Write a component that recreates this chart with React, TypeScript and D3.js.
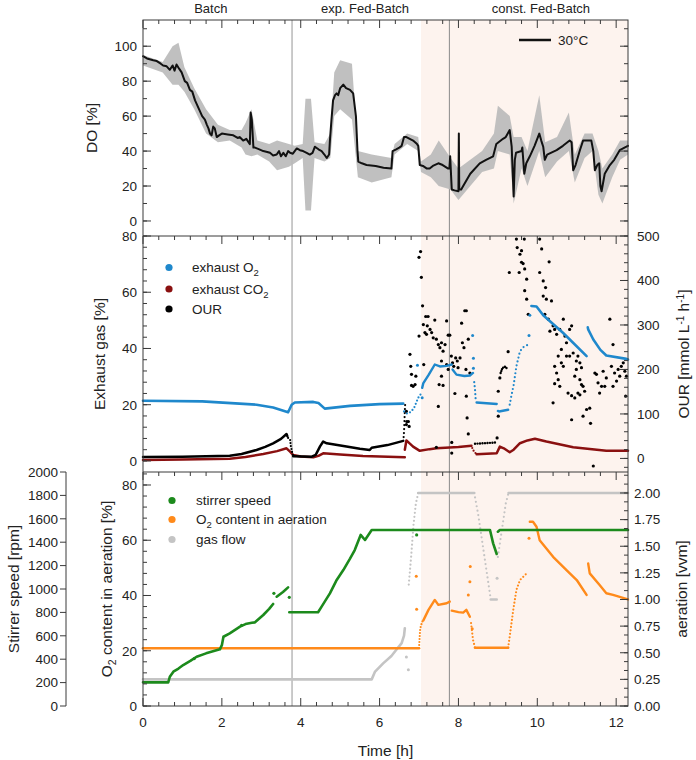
import React from 'react';
import * as d3 from 'd3';

type P = [number, number];
type B = [number, number, number];

// ---------- axis extents ----------
const timeMax = 12.3;
const doDomain: P = [-8.6, 115];
const exDomain: P = [-3.93, 80];
const ourDomain: P = [-30.5, 500];
const o2Domain: P = [0, 84.7];
const aerDomain: P = [0, 2.197];
const stirDomain: P = [0, 2000];

// ---------- phases ----------
const phaseLabels = ['Batch', 'exp. Fed-Batch', 'const. Fed-Batch'];
const phaseLabelT = [1.72, 5.63, 10.09];
const phaseLine1 = 3.78;
const phaseLine2 = 7.77;
const shadeStart = 7.05;

// ---------- DO (top panel) ----------
const doMean: P[] = [[0,94.3],[0.1,93],[0.26,92],[0.35,91.5],[0.45,90],[0.51,89],[0.6,88.5],[0.68,86.5],[0.75,89],[0.8,86],[0.85,89.5],[0.92,87],[0.98,85],[1.06,80],[1.12,79],[1.19,75],[1.25,74],[1.32,69],[1.38,66],[1.44,63],[1.5,60],[1.57,58],[1.62,55],[1.66,53],[1.7,50],[1.74,49],[1.78,54],[1.82,53],[1.87,48],[1.93,49],[2.0,50],[2.15,49.5],[2.29,49],[2.4,47.5],[2.45,48],[2.54,46],[2.62,47],[2.71,44],[2.73,62],[2.76,58],[2.8,42],[2.84,42],[2.95,41],[3.05,40],[3.15,39.5],[3.22,39],[3.3,37.5],[3.39,38],[3.45,40],[3.5,37],[3.56,39],[3.62,37],[3.68,40],[3.73,39],[3.8,38.5],[3.9,41.5],[3.98,40.5],[4.06,40],[4.15,39],[4.23,38],[4.3,39],[4.36,42.5],[4.45,41],[4.53,40],[4.6,38],[4.66,36],[4.72,38],[4.74,46],[4.78,58],[4.82,69],[4.87,72],[4.91,73],[4.95,72],[5.0,76],[5.08,78],[5.15,76],[5.25,75],[5.33,73],[5.4,60],[5.44,40],[5.46,34],[5.55,33],[5.67,32],[5.9,31.5],[6.1,30.5],[6.3,30],[6.33,40],[6.42,41],[6.5,42],[6.56,43],[6.62,48],[6.68,48],[6.85,46],[6.95,44],[6.98,43],[7.02,32],[7.1,31.5],[7.2,30],[7.27,30],[7.35,31.5],[7.49,33],[7.6,32],[7.74,30],[7.77,30],[7.79,37],[7.83,18],[7.9,17.5],[8.0,17],[8.01,50],[8.02,18],[8.07,18],[8.12,20],[8.3,27],[8.54,33],[8.7,35],[8.88,37],[8.96,44],[9.13,47],[9.2,48],[9.3,52],[9.35,42.5],[9.4,14],[9.43,35],[9.46,39],[9.6,40],[9.62,42],[9.67,27],[9.72,33],[9.81,37],[9.93,43],[10.05,50],[10.1,46],[10.15,42.5],[10.19,35],[10.25,38],[10.49,40.5],[10.65,43],[10.82,46],[10.87,45],[10.91,29],[10.97,32],[11.08,40.5],[11.16,46],[11.37,46],[11.42,40],[11.46,29],[11.52,32],[11.57,33],[11.6,20],[11.63,17],[11.67,22],[11.71,27],[11.84,32],[11.95,35],[12.09,40.5],[12.26,42.5],[12.3,43]];
const doBand: B[] = [[0,89,95],[0.5,85,91],[0.75,78,100],[0.9,78,102],[1.05,74,88],[1.3,64,76],[1.6,50,64],[1.9,45,55],[2.2,46,52],[2.5,42,52],[2.6,38,56],[2.75,37,64],[2.9,38,46],[3.2,34,44],[3.4,29,46],[3.7,31,44],[3.85,33,43],[4.05,36,44],[4.12,6,70],[4.26,6,70],[4.35,36,45],[4.6,34,44],[4.75,36,50],[4.85,60,85],[5.0,64,92],[5.3,58,90],[5.45,25,40],[5.8,22,38],[6.3,25,36],[6.38,38,44],[6.7,44,50],[6.98,40,48],[7.05,28,34],[7.3,25,38],[7.5,20,46],[7.8,18,36],[8.0,12,30],[8.3,20,35],[8.6,28,40],[8.9,30,50],[9.0,40,66],[9.3,38,60],[9.4,10,48],[9.6,30,48],[9.75,20,40],[10.05,40,72],[10.2,25,45],[10.5,34,48],[10.8,40,62],[10.95,22,38],[11.2,36,50],[11.4,40,50],[11.55,15,40],[11.65,10,30],[11.9,25,38],[12.1,35,46],[12.3,38,46]];

// ---------- exhaust O2 (blue, % axis) ----------
const o2ExSolid1: P[] = [[0,21.4],[1.5,21.2],[2.88,20],[3.3,19],[3.68,17.3],[3.77,20],[3.85,20.8],[4.32,21],[4.45,20.6],[4.61,18.6],[5.25,19.6],[6.0,20.2],[6.6,20.4]];
const o2ExDotted1: P[] = [[6.62,17.6],[6.7,16.8],[6.8,17.5],[6.88,19],[6.96,21.8],[7.0,23],[7.06,24]];
const o2ExSolid2: P[] = [[7.08,26],[7.11,27.7],[7.24,30.5],[7.4,34.3],[7.53,33.6],[7.7,33.8],[7.83,34.3]];
const o2ExSolid3: P[] = [[7.85,32.5],[7.95,30.7],[8.15,30.2],[8.29,30.4],[8.37,31.3]];
const o2ExDotted2: P[] = [[8.4,28],[8.42,25.4],[8.44,21.2]];
const o2ExSolid4: P[] = [[8.46,20.8],[8.97,20.25]];
const o2ExSolid5: P[] = [[9.0,17.8],[9.03,17.6],[9.26,18.2]];
const o2ExDotted3: P[] = [[9.3,20],[9.34,23],[9.4,27],[9.47,33.7],[9.56,39],[9.65,40.5],[9.77,41.4]];
const o2ExSolid6: P[] = [[9.85,55.1],[9.98,54.9],[10.15,51.8],[10.65,45.6],[11.25,37.3]];
const o2ExSolid7: P[] = [[11.28,47.5],[11.29,46.8],[11.42,43.2],[11.6,39.5],[11.75,37.5],[12.26,36.3],[12.3,36.1]];
const o2ExDots: P[] = [[6.96,34],[7.08,22.5],[8.36,44.6],[8.38,36.5],[8.38,33],[9.79,44.6],[9.81,51.8]];

// ---------- exhaust CO2 (dark red, % axis) ----------
const co2Solid1: P[] = [[0,0.36],[1.0,0.5],[2.2,0.8],[2.6,1.4],[3.05,2.5],[3.4,3.5],[3.64,4.5],[3.73,3.3],[3.81,2.1],[4.0,1.6],[4.32,1.3],[4.45,1.8],[4.57,2.7],[5.0,2.3],[5.58,1.8],[6.64,1.3]];
const co2Solid2: P[] = [[6.64,4],[6.68,7.3],[6.85,5.1],[7.02,3.6],[7.27,4.2],[7.44,4.5],[8.0,5],[8.33,5.4]];
const co2Dotted: P[] = [[8.35,4.6],[8.37,3.9],[8.42,3],[8.46,2.4]];
const co2Solid3: P[] = [[8.46,2.4],[8.97,2.75],[9.05,5.1],[9.15,4.5],[9.3,3.1],[9.4,4],[9.56,6.3],[9.75,7.3],[9.94,7.9],[10.23,6.9],[10.91,4.9],[11.75,3.6],[12.3,3.6]];

// ---------- OUR (black, OUR axis) ----------
const ourSolid1: P[] = [[0,3],[1.0,4],[2.2,6],[2.5,10],[2.88,19],[3.1,26],[3.3,34],[3.5,44],[3.64,55],[3.66,50]];
const ourDotted1: P[] = [[3.68,46],[3.73,42],[3.75,27],[3.78,15],[3.81,6]];
const ourSolid2: P[] = [[3.81,5],[4.28,4],[4.38,8],[4.49,27],[4.57,38],[4.66,34],[5.16,27],[5.5,22],[5.75,19],[5.8,24],[6.2,30],[6.6,39.5]];
const ourDotted2: P[] = [[6.61,48],[6.62,60],[6.63,83],[6.64,106],[6.65,125]];
const ourSolid3: P[] = [[8.42,33],[8.6,34],[8.8,35],[8.98,36]];
const ourArc: P[] = [[9.07,192],[9.1,200],[9.13,204],[9.18,206],[9.22,203]];
const ourDots: P[] = [[6.68,106],[6.73,83],[6.75,72],[6.68,76],[6.69,83],[6.77,234],[6.79,207],[6.81,189],[6.85,162],[6.9,166],[6.81,164],[6.92,185],[7.0,452],[7.04,465],[7.06,407],[7.09,343],[7.0,275],[7.12,211],[7.11,301],[7.17,319],[7.23,319],[7.21,298],[7.28,290],[7.15,283],[7.19,279],[7.32,283],[7.36,271],[7.4,311],[7.44,268],[7.49,256],[7.53,249],[7.57,260],[7.61,241],[7.66,256],[7.7,309],[7.74,277],[7.78,277],[7.82,230],[7.57,219],[7.49,117],[7.51,166],[7.61,164],[7.57,185],[7.7,211],[7.74,200],[7.85,215],[7.88,207],[7.93,226],[7.97,219],[7.91,146],[7.99,204],[8.04,226],[8.08,304],[8.1,260],[8.14,249],[8.16,332],[8.2,332],[8.25,268],[8.19,200],[8.2,140],[8.22,91],[8.29,192],[7.44,25],[7.83,36],[7.83,12],[8.25,55],[8.98,46],[9.05,181],[9.01,151],[9.01,95],[9.26,240],[9.29,418],[9.47,493],[9.49,474],[9.56,459],[9.6,441],[9.64,438],[9.68,426],[9.73,403],[9.68,377],[9.73,358],[9.77,324],[9.67,493],[9.6,467],[9.54,418],[10.06,493],[10.11,471],[10.3,442],[10.06,418],[10.15,399],[10.21,384],[10.15,365],[10.23,358],[10.36,354],[10.19,324],[10.28,313],[10.4,298],[10.32,286],[10.44,290],[10.49,279],[10.57,290],[10.66,313],[10.7,275],[10.74,260],[10.61,245],[10.53,230],[10.61,215],[10.66,207],[10.44,207],[10.49,192],[10.44,168],[10.53,177],[10.4,125],[10.57,162],[10.74,230],[10.82,230],[10.87,298],[10.82,290],[10.91,237],[10.99,219],[11.03,230],[11.08,215],[11.12,204],[10.99,200],[10.95,185],[11.08,177],[10.78,147],[10.87,141],[10.95,136],[11.03,147],[11.12,166],[11.16,162],[11.2,151],[11.08,143],[11.16,95],[10.87,87],[11.33,113],[11.25,110],[11.35,79],[11.46,192],[11.5,189],[11.54,170],[11.63,162],[11.58,147],[11.71,162],[11.75,181],[11.67,196],[11.84,313],[11.92,256],[11.88,207],[11.96,192],[12.01,174],[11.92,162],[12.05,200],[12.09,185],[12.13,207],[12.18,215],[12.22,196],[12.26,185],[12.24,140],[11.42,-17]];

// ---------- stirrer speed (green, rpm axis) ----------
const stirSolid1: P[] = [[0,202],[0.64,202],[0.68,250],[0.77,293],[0.9,320],[1.02,350],[1.2,385],[1.36,421],[1.6,450],[1.95,484],[2.0,520],[2.04,592],[2.2,621],[2.46,678],[2.6,700],[2.76,712],[2.84,715],[3.05,778],[3.2,830],[3.3,872]];
const stirSolid2: P[] = [[3.39,934],[3.55,975],[3.68,1014]];
const stirSolid3: P[] = [[3.71,801],[4.44,801],[4.53,849],[4.74,963],[4.9,1070],[5.08,1162],[5.25,1260],[5.37,1333],[5.52,1462],[5.63,1419],[5.8,1504],[6.85,1504],[8.8,1504],[8.88,1390],[8.97,1299]];
const stirSolid4: P[] = [[9.0,1490],[9.05,1504],[12.3,1504]];
const stirDots: P[] = [[3.32,963],[3.71,929],[1.3,405],[2.5,690],[6.94,1462]];

// ---------- O2 content in aeration (orange, % axis) ----------
const o2inSolid1: P[] = [[0,20.9],[7.0,20.9]];
const o2inDotted1: P[] = [[7.0,21],[7.03,28],[7.08,30.5],[7.11,31]];
const o2inSolid2: P[] = [[7.11,31],[7.24,34.8],[7.4,38.4],[7.49,36.6],[7.7,37.2],[7.78,37.8]];
const o2inSolid3: P[] = [[7.83,34.5],[8.0,34],[8.12,33.8],[8.2,34.8],[8.29,32.3]];
const o2inDotted2: P[] = [[8.32,30],[8.37,23.9],[8.42,21.1]];
const o2inSolid4: P[] = [[8.42,21.1],[9.26,21.1]];
const o2inDotted3: P[] = [[9.26,21.1],[9.3,25.1],[9.39,34.8],[9.47,42],[9.56,45.6],[9.73,48]];
const o2inSolid5: P[] = [[9.81,66.7],[9.89,66.7],[9.98,64.9],[10.06,60],[10.4,54],[10.74,49.2],[11.0,45.6],[11.25,40.2]];
const o2inSolid6: P[] = [[11.29,51.6],[11.33,48],[11.58,43.8],[11.75,40.8],[11.92,40.2],[12.3,38.6]];
const o2inDots: P[] = [[6.93,47],[6.94,35],[8.25,40.2],[8.29,45],[8.3,50.5],[8.35,28],[9.79,60.7]];

// ---------- gas flow (grey, vvm axis) ----------
const flowSolid1: P[] = [[0,0.25],[5.8,0.25],[5.88,0.32],[6.09,0.4],[6.3,0.47],[6.43,0.53],[6.56,0.59],[6.62,0.66],[6.64,0.73]];
const flowDotted1: P[] = [[6.74,1.14],[6.8,1.4],[6.86,1.7],[6.92,1.9],[6.98,2.0]];
const flowSolid2: P[] = [[6.98,2.0],[8.4,2.0]];
const flowDotted2: P[] = [[8.4,2.0],[8.5,1.8],[8.6,1.55],[8.7,1.3],[8.82,1.0]];
const flowSolid3: P[] = [[8.82,1.0],[8.97,1.0]];
const flowDotted3: P[] = [[9.0,1.4],[9.1,1.65],[9.2,1.9],[9.27,2.0]];
const flowSolid4: P[] = [[9.27,2.0],[12.3,2.0]];
const flowDots: P[] = [[6.68,0.46],[6.73,0.34],[8.98,1.2]];

// ---------- ticks ----------
const timeTicks = [0, 2, 4, 6, 8, 10, 12];
const doTicks = [0, 20, 40, 60, 80, 100];
const exTicks = [0, 20, 40, 60, 80];
const ourTicks = [0, 100, 200, 300, 400, 500];
const o2Ticks = [0, 20, 40, 60, 80];
const aerTicks = [0, 0.25, 0.5, 0.75, 1.0, 1.25, 1.5, 1.75, 2.0];
const stirTicks = [0, 200, 400, 600, 800, 1000, 1200, 1400, 1600, 1800, 2000];

const FONT = "'Liberation Sans', Arial, Helvetica, sans-serif";
const BLUE = '#1f88cc';
const RED = '#8a1010';
const GREEN = '#1c8a1c';
const ORANGE = '#ff8a1a';
const GREY = '#c4c4c4';
const AX = '#3a3a3a';

const L = 143, R = 628;
const T1 = 20, B1 = 236, B2 = 472, B3 = 706;

export default function App() {
  const x = d3.scaleLinear().domain([0, timeMax]).range([L, R]);
  const yDO = d3.scaleLinear().domain(doDomain).range([B1, T1]);
  const yEx = d3.scaleLinear().domain(exDomain).range([B2, B1]);
  const yOUR = d3.scaleLinear().domain(ourDomain).range([B2, B1]);
  const yO2 = d3.scaleLinear().domain(o2Domain).range([B3, B2]);
  const yAer = d3.scaleLinear().domain(aerDomain).range([B3, B2]);
  const yStir = d3.scaleLinear().domain(stirDomain).range([B3, B2]);

  const mk = (ys: d3.ScaleLinear<number, number>) =>
    d3.line<P>().x(d => x(d[0])).y(d => ys(d[1]));

  const solid = (pts: P[], ys: any, color: string, w: number, key: string) => (
    <path key={key} d={mk(ys)(pts) || ''} fill="none" stroke={color} strokeWidth={w}
      strokeLinejoin="round" strokeLinecap="round" />
  );
  const dotted = (pts: P[], ys: any, color: string, w: number, key: string, gap = 4) => (
    <path key={key} d={mk(ys)(pts) || ''} fill="none" stroke={color} strokeWidth={w}
      strokeDasharray={`0 ${gap}`} strokeLinecap="round" />
  );
  const dots = (pts: P[], ys: any, color: string, r: number, key: string) => (
    <g key={key}>{pts.map((d, i) => <circle key={i} cx={x(d[0])} cy={ys(d[1])} r={r} fill={color} />)}</g>
  );

  const band = d3.area<B>().x(d => x(d[0])).y0(d => yDO(d[1])).y1(d => yDO(d[2]));

  const minorT = d3.range(0, timeMax + 1e-6, 0.4);
  const xTicksTop = (yTop: number, key: string) => (
    <g key={key}>
      {minorT.map((t, i) => {
        const major = Math.abs(t / 2 - Math.round(t / 2)) < 1e-6;
        return <line key={i} x1={x(t)} x2={x(t)} y1={yTop} y2={yTop + (major ? 8 : 4)} stroke={AX} strokeWidth={1} />;
      })}
    </g>
  );

  const yAxis = (ys: any, majors: number[], minorStep: number, lo: number, hi: number,
    xPos: number, dir: number, key: string) => {
    const minors = d3.range(lo, hi + 1e-6, minorStep);
    return (
      <g key={key}>
        {minors.map((v, i) => <line key={'m' + i} x1={xPos} x2={xPos + dir * 4} y1={ys(v)} y2={ys(v)} stroke={AX} strokeWidth={1} />)}
        {majors.map((v, i) => <line key={'M' + i} x1={xPos} x2={xPos + dir * 8} y1={ys(v)} y2={ys(v)} stroke={AX} strokeWidth={1} />)}
      </g>
    );
  };

  const tickText = (majors: number[], ys: any, xPos: number, anchor: string, fmt: (v: number) => string, key: string) => (
    <g key={key} fontFamily={FONT} fontSize={13.5} fill="#222">
      {majors.map((v, i) => <text key={i} x={xPos} y={ys(v)} dy="0.36em" textAnchor={anchor}>{fmt(v)}</text>)}
    </g>
  );

  const fmt0 = (v: number) => String(v);
  const fmt2 = (v: number) => v.toFixed(2);

  return (
    <svg width={696} height={760} style={{ position: 'absolute', left: 0, top: 0, background: '#fff' }}>
      {/* phase shading */}
      <rect x={x(shadeStart)} y={T1} width={R - x(shadeStart)} height={B3 - T1} fill="#fdf3ee" />

      {/* phase lines */}
      <line x1={x(phaseLine1)} x2={x(phaseLine1)} y1={T1} y2={B3} stroke="#bdbdbd" strokeWidth={1.6} />
      <line x1={x(phaseLine2)} x2={x(phaseLine2)} y1={T1} y2={B3} stroke="#8a8a8a" strokeWidth={1} />

      {/* phase labels */}
      <g fontFamily={FONT} fontSize={13} fill="#222" textAnchor="middle">
        {phaseLabels.map((s, i) => <text key={i} x={x(phaseLabelT[i])} y={13}>{s}</text>)}
      </g>

      {/* ---------- TOP PANEL ---------- */}
      <path d={band(doBand) || ''} fill="#b9b9b9" fillOpacity={0.9} />
      {solid(doMean, yDO, '#111', 2, 'do')}
      <line x1={519} x2={551} y1={40} y2={40} stroke="#111" strokeWidth={2.5} />
      <text x={558} y={40} dy="0.36em" fontFamily={FONT} fontSize={13.5} fill="#222">30°C</text>

      {/* ---------- MIDDLE PANEL ---------- */}
      {solid(co2Solid1, yEx, RED, 2.5, 'c1')}
      {solid(co2Solid2, yEx, RED, 2.5, 'c2')}
      {dotted(co2Dotted, yEx, RED, 2.2, 'c3', 3)}
      {solid(co2Solid3, yEx, RED, 2.5, 'c4')}

      {solid(ourSolid1, yOUR, '#000', 2.5, 'u1')}
      {dotted(ourDotted1, yOUR, '#000', 2.2, 'u2', 3)}
      {solid(ourSolid2, yOUR, '#000', 2.5, 'u3')}
      {dotted(ourDotted2, yOUR, '#000', 2.2, 'u4', 4)}
      {dotted(ourSolid3, yOUR, '#000', 2.4, 'u5', 2.5)}
      {dotted(ourArc, yOUR, '#000', 2.4, 'u6', 2)}
      {dots(ourDots, yOUR, '#000', 1.6, 'u7')}

      {solid(o2ExSolid1, yEx, BLUE, 2.6, 'b1')}
      {dotted(o2ExDotted1, yEx, BLUE, 2.2, 'b2', 3.5)}
      {solid(o2ExSolid2, yEx, BLUE, 2.4, 'b3')}
      {solid(o2ExSolid3, yEx, BLUE, 2.4, 'b4')}
      {dotted(o2ExDotted2, yEx, BLUE, 2.2, 'b5', 4)}
      {solid(o2ExSolid4, yEx, BLUE, 2.4, 'b6')}
      {solid(o2ExSolid5, yEx, BLUE, 2.4, 'b7')}
      {dotted(o2ExDotted3, yEx, BLUE, 2.2, 'b8', 4)}
      {solid(o2ExSolid6, yEx, BLUE, 2.6, 'b9')}
      {solid(o2ExSolid7, yEx, BLUE, 2.6, 'b10')}
      {dots(o2ExDots, yEx, BLUE, 1.5, 'b11')}

      {/* middle legend */}
      <g fontFamily={FONT} fontSize={13.5} fill="#222">
        <circle cx={169} cy={267.5} r={3.6} fill={BLUE} />
        <circle cx={169} cy={289} r={3.6} fill={RED} />
        <circle cx={169} cy={309} r={3.6} fill="#000" />
        <text x={192} y={267.5} dy="0.36em">exhaust O<tspan dy={4} fontSize={9.5}>2</tspan></text>
        <text x={192} y={289} dy="0.36em">exhaust CO<tspan dy={4} fontSize={9.5}>2</tspan></text>
        <text x={192} y={309} dy="0.36em">OUR</text>
      </g>

      {/* ---------- BOTTOM PANEL ---------- */}
      {solid(flowSolid1, yAer, GREY, 2.6, 'f1')}
      {dotted(flowDotted1, yAer, GREY, 2.2, 'f2', 4)}
      {solid(flowSolid2, yAer, GREY, 2.6, 'f3')}
      {dotted(flowDotted2, yAer, GREY, 2.2, 'f4', 4.5)}
      {solid(flowSolid3, yAer, GREY, 2.6, 'f5')}
      {dotted(flowDotted3, yAer, GREY, 2.2, 'f6', 4.5)}
      {solid(flowSolid4, yAer, GREY, 2.6, 'f7')}
      {dots(flowDots, yAer, GREY, 1.5, 'f8')}

      {solid(o2inSolid1, yO2, ORANGE, 2.6, 'o1')}
      {dotted(o2inDotted1, yO2, ORANGE, 2.2, 'o2', 3)}
      {solid(o2inSolid2, yO2, ORANGE, 2.4, 'o3')}
      {solid(o2inSolid3, yO2, ORANGE, 2.4, 'o4')}
      {dotted(o2inDotted2, yO2, ORANGE, 2.2, 'o5', 3.5)}
      {solid(o2inSolid4, yO2, ORANGE, 2.6, 'o6')}
      {dotted(o2inDotted3, yO2, ORANGE, 2.2, 'o7', 3.5)}
      {solid(o2inSolid5, yO2, ORANGE, 2.4, 'o8')}
      {solid(o2inSolid6, yO2, ORANGE, 2.4, 'o9')}
      {dots(o2inDots, yO2, ORANGE, 1.5, 'o10')}

      {solid(stirSolid1, yStir, GREEN, 2.6, 's1')}
      {solid(stirSolid2, yStir, GREEN, 2.6, 's2')}
      {solid(stirSolid3, yStir, GREEN, 2.6, 's3')}
      {solid(stirSolid4, yStir, GREEN, 2.6, 's4')}
      {dots(stirDots, yStir, GREEN, 1.6, 's5')}

      {/* bottom legend */}
      <g fontFamily={FONT} fontSize={13.5} fill="#222">
        <circle cx={172} cy={500.5} r={3.6} fill={GREEN} />
        <circle cx={172} cy={519.5} r={3.6} fill={ORANGE} />
        <circle cx={172} cy={539.5} r={3.6} fill={GREY} />
        <text x={196} y={500.5} dy="0.36em">stirrer speed</text>
        <text x={196} y={519.5} dy="0.36em">O<tspan dy={4} fontSize={9.5}>2</tspan><tspan dy={-4}> content in aeration</tspan></text>
        <text x={196} y={539.5} dy="0.36em">gas flow</text>
      </g>

      {/* ---------- FRAMES & AXES ---------- */}
      <g fill="none" stroke={AX} strokeWidth={1}>
        <rect x={L} y={T1} width={R - L} height={B3 - T1} />
        <line x1={L} x2={R} y1={B1} y2={B1} />
        <line x1={L} x2={R} y1={B2} y2={B2} />
        <line x1={66} x2={66} y1={B2} y2={B3} />
      </g>
      {xTicksTop(T1, 'xt1')}
      {xTicksTop(B1, 'xt2')}
      {xTicksTop(B2, 'xt3')}
      <g>
        {minorT.map((t, i) => {
          const major = Math.abs(t / 2 - Math.round(t / 2)) < 1e-6;
          return <line key={i} x1={x(t)} x2={x(t)} y1={B3} y2={B3 - (major ? 8 : 4)} stroke={AX} strokeWidth={1} />;
        })}
      </g>

      {yAxis(yDO, doTicks, 10, -0, 110, L, 1, 'ay1')}
      {yAxis(yDO, doTicks, 10, 0, 110, R, -1, 'ay1r')}
      {yAxis(yEx, exTicks, 4, 0, 80, L, 1, 'ay2')}
      {yAxis(yOUR, ourTicks, 20, -20, 500, R, -1, 'ay2r')}
      {yAxis(yO2, o2Ticks, 4, 0, 84, L, 1, 'ay3')}
      {yAxis(yAer, aerTicks, 0.25 / 3, 0, 2.17, R, -1, 'ay3r')}
      {stirTicks.map((v, i) => <line key={'st' + i} x1={60} x2={66} y1={yStir(v)} y2={yStir(v)} stroke={AX} strokeWidth={1} />)}

      {tickText(doTicks, yDO, 137, 'end', fmt0, 'l1')}
      {tickText(exTicks, yEx, 137, 'end', fmt0, 'l2')}
      {tickText(ourTicks, yOUR, 637, 'start', fmt0, 'l3')}
      {tickText(o2Ticks, yO2, 137, 'end', fmt0, 'l4')}
      {tickText(aerTicks, yAer, 634, 'start', fmt2, 'l5')}
      {tickText(stirTicks, yStir, 58, 'end', fmt0, 'l6')}
      <g fontFamily={FONT} fontSize={13.5} fill="#222" textAnchor="middle">
        {timeTicks.map((t, i) => <text key={i} x={x(t)} y={722} dy="0.36em">{t}</text>)}
      </g>

      {/* axis titles */}
      <g fontFamily={FONT} fontSize={15.5} fill="#222" textAnchor="middle">
        <text transform={`translate(97,${(T1 + B1) / 2}) rotate(-90)`}>DO [%]</text>
        <text transform={`translate(105,${(B1 + B2) / 2}) rotate(-90)`}>Exhaust gas [%]</text>
        <text transform={`translate(689,${(B1 + B2) / 2}) rotate(-90)`}>OUR [mmol L<tspan dy={-5} fontSize={10}>-1</tspan><tspan dy={5}> h</tspan><tspan dy={-5} fontSize={10}>-1</tspan><tspan dy={5}>]</tspan></text>
        <text transform={`translate(112,${(B2 + B3) / 2}) rotate(-90)`}>O<tspan dy={4} fontSize={10.5}>2</tspan><tspan dy={-4}> content in aeration [%]</tspan></text>
        <text transform={`translate(19,${(B2 + B3) / 2}) rotate(-90)`}>Stirrer speed [rpm]</text>
        <text transform={`translate(687,${(B2 + B3) / 2}) rotate(-90)`}>aeration [vvm]</text>
        <text x={(L + R) / 2} y={756}>Time [h]</text>
      </g>
    </svg>
  );
}
